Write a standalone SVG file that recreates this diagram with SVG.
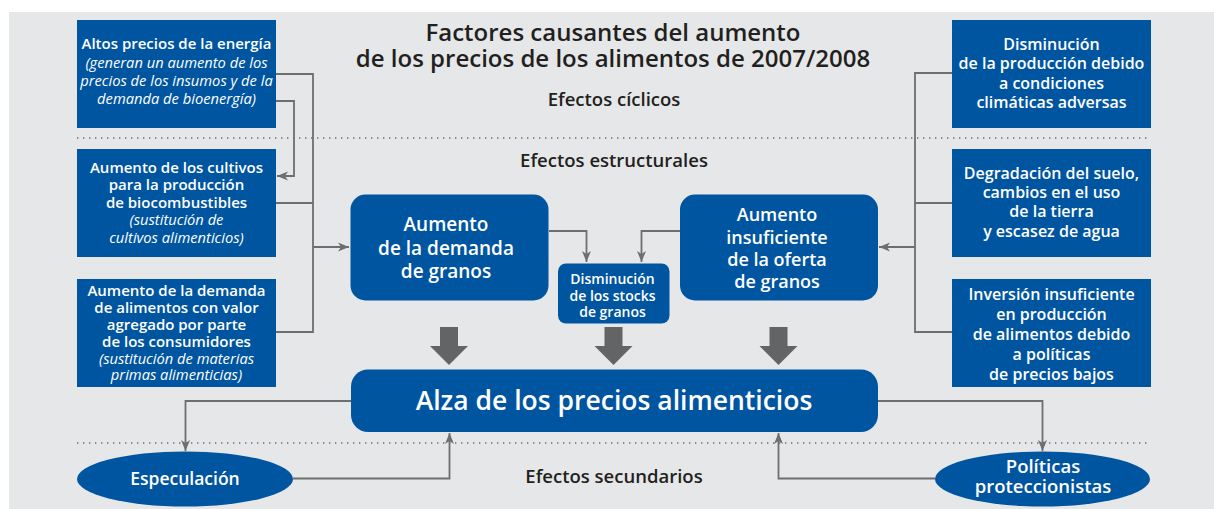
<svg xmlns="http://www.w3.org/2000/svg" width="1214" height="509" viewBox="0 0 1214 509">
<defs>
<style>
.bg{fill:#e6e7e8}
.box{fill:#0055a1}
.t{font-family:"Open Sans","Noto Sans",sans-serif;fill:#fff;text-anchor:middle}
.b{font-weight:600}
.i{font-style:italic;font-weight:400}
.h{font-family:"Open Sans","Noto Sans",sans-serif;fill:#231f20;text-anchor:middle;font-weight:600}
.c{fill:none;stroke:#6d6e71;stroke-width:1.8}
.dot{fill:none;stroke:#6d6e71;stroke-width:1.4;stroke-dasharray:1.4 4.6}
.fat{fill:#636466}
</style>
<marker id="ah" markerUnits="userSpaceOnUse" markerWidth="12" markerHeight="10" refX="11" refY="5" orient="auto">
<path d="M0,0.5 L11,5 L0,9.5 L3,5 z" fill="#6d6e71"/>
</marker>
</defs>
<rect x="9" y="12" width="1205" height="497" class="bg"/>
<line x1="77" y1="138" x2="1151" y2="138" class="dot"/>
<line x1="77" y1="443" x2="1151" y2="443" class="dot"/>

<g id="headings">
<text class="h" x="613" y="41" font-size="24">Factores causantes del aumento</text>
<text class="h" x="613" y="66.5" font-size="24">de los precios de los alimentos de 2007/2008</text>
<text class="h" x="614" y="106" font-size="18.5">Efectos cíclicos</text>
<text class="h" x="614" y="167" font-size="18.5">Efectos estructurales</text>
<text class="h" x="614" y="483" font-size="18.5">Efectos secundarios</text>
</g>

<g id="connectors">
<path class="c" d="M276,74 H313 V332 H276"/>
<path class="c" d="M276,203 H313"/>
<path class="c" d="M276,101 H294 V176 H277" marker-end="url(#ah)"/>
<path class="c" d="M313,247 H349" marker-end="url(#ah)"/>
<path class="c" d="M952,73 H915 V332 H952"/>
<path class="c" d="M952,203 H915"/>
<path class="c" d="M915,247 H879" marker-end="url(#ah)"/>
<path class="c" d="M549,231 H586.5 V262" marker-end="url(#ah)"/>
<path class="c" d="M680,231 H641.5 V262" marker-end="url(#ah)"/>
<path class="c" d="M351,401 H185.5 V451" marker-end="url(#ah)"/>
<path class="c" d="M877,401 H1042.5 V451" marker-end="url(#ah)"/>
<path class="c" d="M293,478.5 H449.5 V433" marker-end="url(#ah)"/>
<path class="c" d="M935,478.5 H778.5 V433" marker-end="url(#ah)"/>
<polygon class="fat" points="440,327 458,327 458,346 468,346 449,365 430,346 440,346"/>
<polygon class="fat" points="604.5,327 622.5,327 622.5,346 632.5,346 613.5,365 594.5,346 604.5,346"/>
<polygon class="fat" points="769.5,327 787.5,327 787.5,346 797.5,346 778.5,365 759.5,346 769.5,346"/>
</g>

<g id="n-energia">
<rect class="box" x="77" y="20" width="199" height="108"/>
<text class="t" font-size="14.7" x="176.5"><tspan class="b" font-size="15" y="49">Altos precios de la energía</tspan><tspan class="i" x="176.5" y="68">(generan un aumento de los</tspan><tspan class="i" x="176.5" y="86">precios de los insumos y de la</tspan><tspan class="i" x="176.5" y="104">demanda de bioenergía)</tspan></text>
</g>

<g id="n-biocombustibles">
<rect class="box" x="77" y="149" width="199" height="108"/>
<text class="t" font-size="14.7" x="176.5"><tspan class="b" font-size="15" y="173">Aumento de los cultivos</tspan><tspan class="b" font-size="15" x="176.5" y="190">para la producción</tspan><tspan class="b" font-size="15" x="176.5" y="207.5">de biocombustibles</tspan><tspan class="i" x="176.5" y="225">(sustitución de</tspan><tspan class="i" x="176.5" y="242.5">cultivos alimenticios)</tspan></text>
</g>

<g id="n-valor">
<rect class="box" x="77" y="279" width="199" height="108"/>
<text class="t" font-size="14.7" x="176.5"><tspan class="b" font-size="15" y="296">Aumento de la demanda</tspan><tspan class="b" font-size="15" x="176.5" y="313">de alimentos con valor</tspan><tspan class="b" font-size="15" x="176.5" y="330">agregado por parte</tspan><tspan class="b" font-size="15" x="176.5" y="346.5">de los consumidores</tspan><tspan class="i" x="176.5" y="363.5">(sustitución de materias</tspan><tspan class="i" x="176.5" y="380">primas alimenticias)</tspan></text>
</g>

<g id="n-climaticas">
<rect class="box" x="952" y="20" width="199" height="108"/>
<text class="t b" font-size="16" x="1051.5"><tspan y="49.5">Disminución</tspan><tspan x="1051.5" y="69">de la producción debido</tspan><tspan x="1051.5" y="88.5">a condiciones</tspan><tspan x="1051.5" y="108">climáticas adversas</tspan></text>
</g>

<g id="n-suelo">
<rect class="box" x="952" y="149" width="199" height="108"/>
<text class="t b" font-size="16" x="1051.5"><tspan y="178.5">Degradación del suelo,</tspan><tspan x="1051.5" y="197.5">cambios en el uso</tspan><tspan x="1051.5" y="217">de la tierra</tspan><tspan x="1051.5" y="236.5">y escasez de agua</tspan></text>
</g>

<g id="n-inversion">
<rect class="box" x="952" y="279" width="199" height="108"/>
<text class="t b" font-size="16" x="1051.5"><tspan y="300">Inversión insuficiente</tspan><tspan x="1051.5" y="319.5">en producción</tspan><tspan x="1051.5" y="339.5">de alimentos debido</tspan><tspan x="1051.5" y="359.5">a políticas</tspan><tspan x="1051.5" y="379.5">de precios bajos</tspan></text>
</g>

<g id="n-demanda">
<rect class="box" x="350.5" y="194.5" width="198" height="106" rx="15"/>
<text class="t b" font-size="19" x="446"><tspan y="231">Aumento</tspan><tspan x="446" y="254.5">de la demanda</tspan><tspan x="446" y="278">de granos</tspan></text>
</g>

<g id="n-oferta">
<rect class="box" x="680" y="194.5" width="198" height="106" rx="15"/>
<text class="t b" font-size="18" x="777"><tspan y="220.5">Aumento</tspan><tspan x="777" y="243.5">insuficiente</tspan><tspan x="777" y="266">de la oferta</tspan><tspan x="777" y="288">de granos</tspan></text>
</g>

<g id="n-stocks">
<rect class="box" x="558" y="263.5" width="111.5" height="60" rx="8"/>
<text class="t b" font-size="14" x="612.5"><tspan y="284">Disminución</tspan><tspan x="612.5" y="300.5">de los stocks</tspan><tspan x="612.5" y="317">de granos</tspan></text>
</g>

<g id="n-alza">
<rect class="box" x="351" y="369.5" width="527" height="62.5" rx="17"/>
<text class="t b" font-size="26.5" x="614" y="410">Alza de los precios alimenticios</text>
</g>

<g id="n-especulacion">
<ellipse class="box" cx="185" cy="479" rx="108" ry="27.5"/>
<text class="t b" font-size="17.5" x="185" y="485">Especulación</text>
</g>

<g id="n-politicas">
<ellipse class="box" cx="1042.5" cy="479" rx="107.5" ry="27.5"/>
<text class="t b" font-size="18.5" x="1043"><tspan y="473">Políticas</tspan><tspan x="1043" y="493">proteccionistas</tspan></text>
</g>
</svg>
